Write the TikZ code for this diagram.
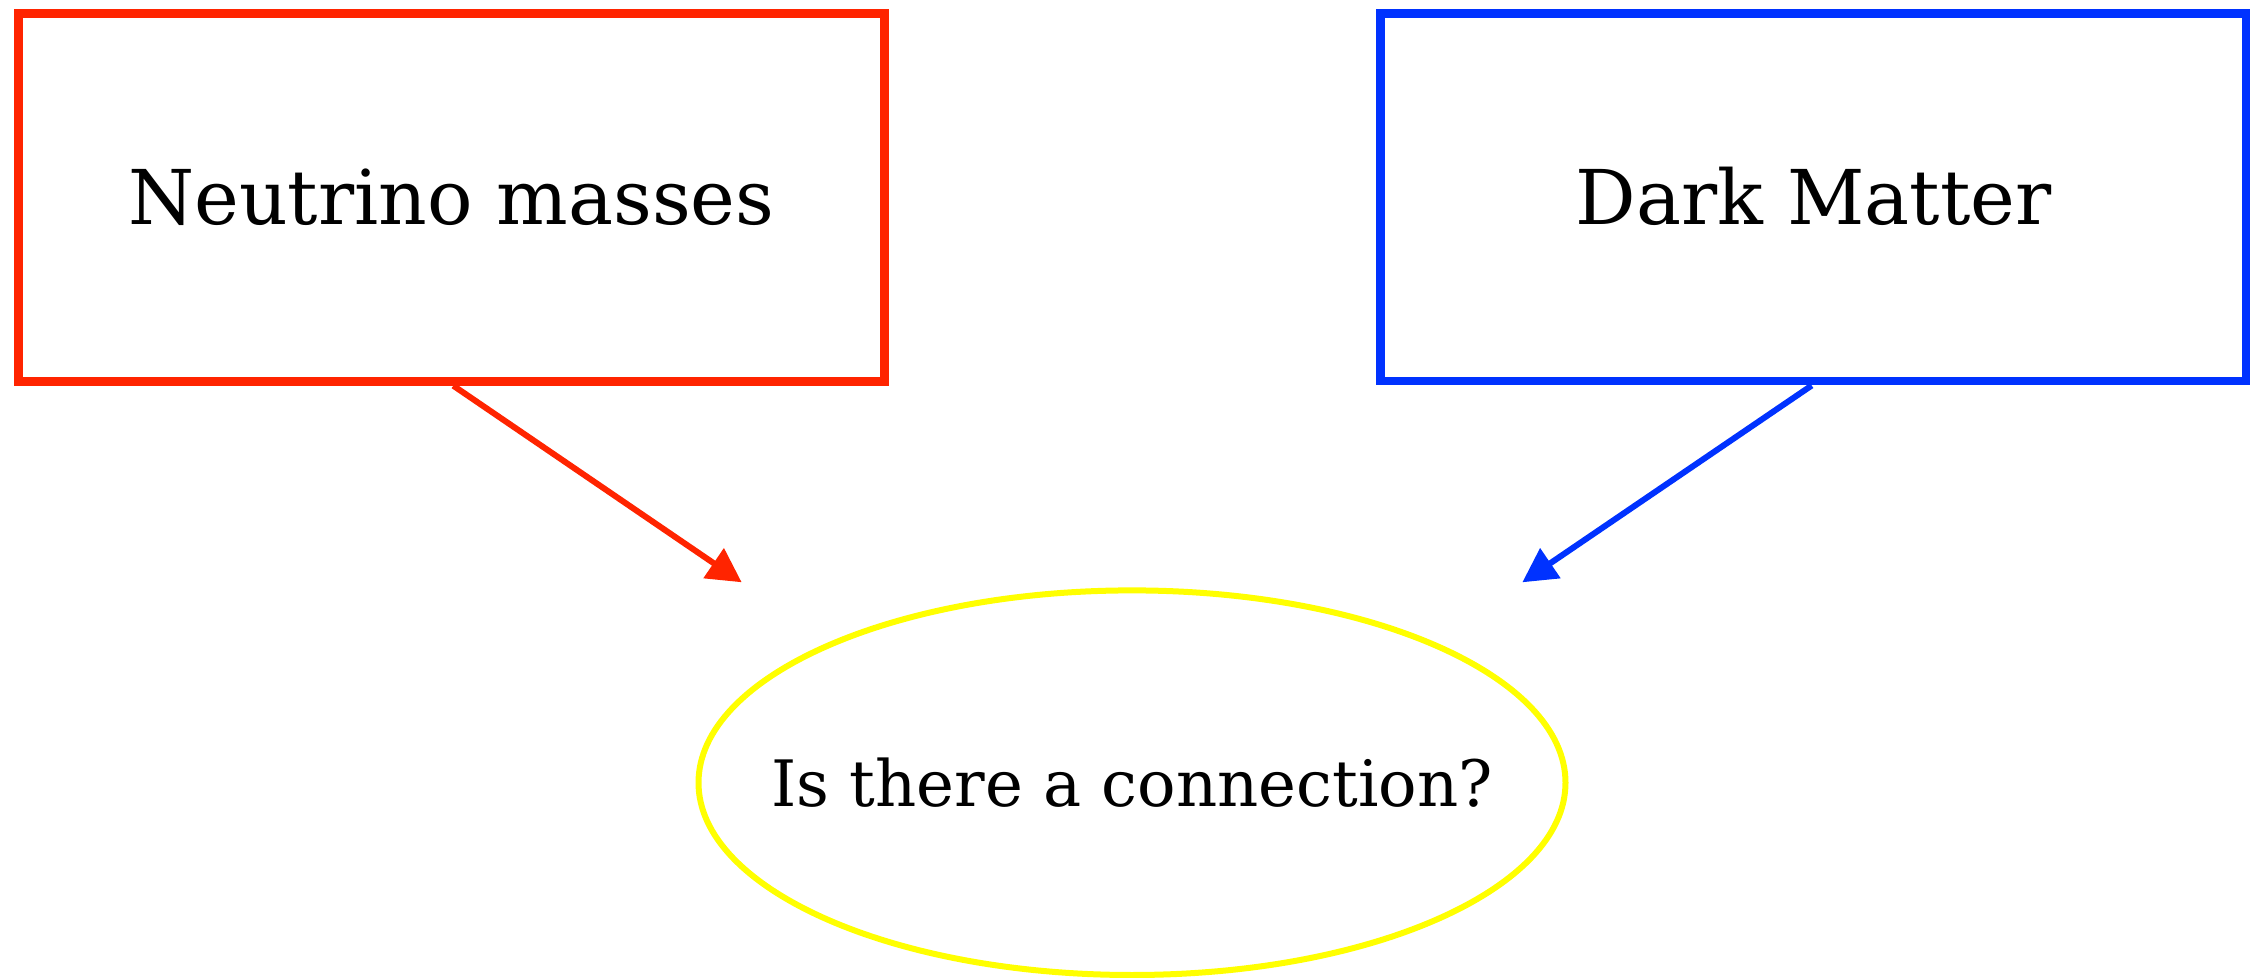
\documentclass[tikz,border=0pt]{standalone}
\usepackage{fontspec}
\setmainfont{DejaVu Serif}
\usetikzlibrary{shapes.geometric,arrows.meta}
\definecolor{nred}{HTML}{FF2400}
\definecolor{dblue}{HTML}{0032FF}
\definecolor{cyellow}{HTML}{FFFF00}
\tikzset{
  topbox/.style={draw, rectangle, line width=4.4pt, minimum width=433pt, minimum height=183.8pt,
    inner sep=0pt, text height=27.5pt, text depth=0pt, font=\fontsize{37.8}{40}\selectfont},
  qnode/.style={draw=cyellow, ellipse, line width=3pt, minimum width=433.5pt, minimum height=192.3pt,
    inner sep=0pt, text height=23.35pt, text depth=0pt, font=\fontsize{32}{36}\selectfont},
  conn/.style={line width=3pt, -{Triangle[length=17pt,width=17.5pt]}}
}
\begin{document}
\begin{tikzpicture}[x=0.5pt,y=-0.5pt]
\useasboundingbox (0,0) rectangle (2250,978);
\node[topbox, draw=nred] (nm) at (451.3,197.5) {Neutrino masses};
\node[topbox, draw=dblue] (dm) at (1813.7,197.3) {Dark Matter};
\node[qnode] (q) at (1132,782.7) {\makebox[0pt]{Is there a connection?}};
\coordinate (rtip) at (741.7,582.3);
\coordinate (btip) at (1522.3,582.3);
\draw[conn, nred] ([xshift=1pt]nm.south) -- (rtip);
\draw[conn, dblue] ([xshift=-1pt]dm.south) -- (btip);
\end{tikzpicture}
\end{document}
